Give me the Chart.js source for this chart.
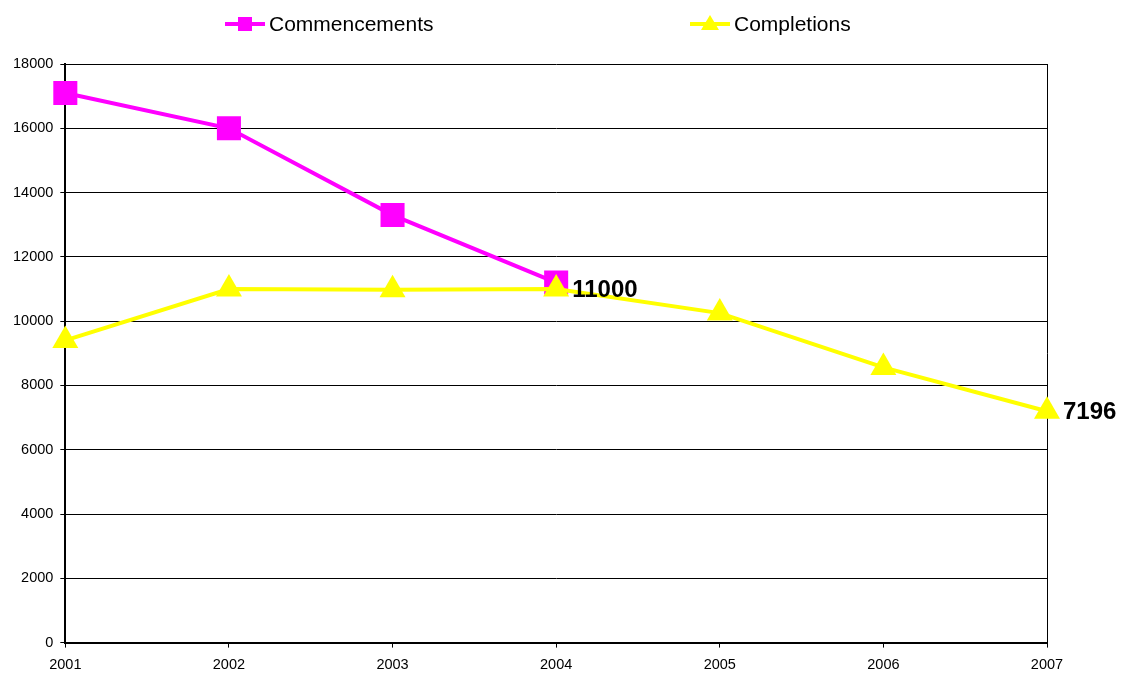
<!DOCTYPE html>
<html>
<head>
<meta charset="utf-8">
<script src="https://cdn.jsdelivr.net/npm/chart.js@4/dist/chart.umd.min.js"></script>
<style>
  body { margin: 0; background: #fff; }
  #wrap { width: 1121px; height: 686px; }
</style>
</head>
<body>
<div id="wrap"><canvas id="grafico" width="1121" height="686"></canvas></div>
<script>
const anos = ['2001', '2002', '2003', '2004', '2005', '2006', '2007'];
const commencements = [17100, 16000, 13300, 11200, null, null, null];
const completions = [9400, 11000, 10980, 11000, 10250, 8560, 7196];
// pontos da série Completions que levam rótulo
const pontosRotulados = [3, 6];

const FONTE = '"Liberation Sans", Arial, sans-serif';

// legenda desenhada à mão: linha + marcador + texto, bem espaçados
const legendaPlugin = {
    id: 'legendaManual',
    afterDraw(chart) {
        const ctx = chart.ctx;
        const itens = [
            { ds: chart.data.datasets[0], x: 225 },
            { ds: chart.data.datasets[1], x: 690 }
        ];
        const y = 24;
        ctx.save();
        itens.forEach(item => {
            ctx.strokeStyle = item.ds.borderColor;
            ctx.lineWidth = 4;
            ctx.beginPath();
            ctx.moveTo(item.x, y);
            ctx.lineTo(item.x + 40, y);
            ctx.stroke();
            ctx.fillStyle = item.ds.borderColor;
            ctx.beginPath();
            if (item.ds.pointStyle === 'rect') {
                ctx.rect(item.x + 13, y - 7, 14, 14);
            } else {
                ctx.moveTo(item.x + 20, y - 9);
                ctx.lineTo(item.x + 29, y + 6);
                ctx.lineTo(item.x + 11, y + 6);
                ctx.closePath();
            }
            ctx.fill();
            ctx.fillStyle = '#000';
            ctx.font = '21px ' + FONTE;
            ctx.textAlign = 'left';
            ctx.textBaseline = 'middle';
            ctx.fillText(item.ds.label, item.x + 44, y + 1);
        });
        ctx.restore();
    }
};

// moldura da área do gráfico (lado direito)
const molduraPlugin = {
    id: 'moldura',
    beforeDatasetsDraw(chart) {
        const a = chart.chartArea;
        const ctx = chart.ctx;
        ctx.save();
        ctx.strokeStyle = '#000';
        ctx.lineWidth = 1;
        ctx.beginPath();
        ctx.moveTo(a.right + 0.5, a.top);
        ctx.lineTo(a.right + 0.5, a.bottom);
        ctx.stroke();
        ctx.restore();
    }
};

// rótulos de valor em negrito à direita do ponto
const rotulosPlugin = {
    id: 'rotulos',
    afterDatasetsDraw(chart) {
        const ctx = chart.ctx;
        const meta = chart.getDatasetMeta(1);
        ctx.save();
        ctx.fillStyle = '#000';
        ctx.font = 'bold 24px ' + FONTE;
        ctx.textAlign = 'left';
        ctx.textBaseline = 'middle';
        pontosRotulados.forEach(i => {
            const p = meta.data[i];
            ctx.fillText(String(completions[i]), p.x + 16, p.y + 1);
        });
        ctx.restore();
    }
};

const ctx = document.getElementById('grafico').getContext('2d');
new Chart(ctx, {
    type: 'line',
    data: {
        labels: anos,
        datasets: [{
            label: 'Commencements',
            data: commencements,
            borderColor: '#FF00FF',
            backgroundColor: '#FF00FF',
            borderWidth: 4,
            pointStyle: 'rect',
            pointRadius: 17,
            pointBorderWidth: 0,
            tension: 0,
            order: 2
        }, {
            label: 'Completions',
            data: completions,
            borderColor: '#FFFF00',
            backgroundColor: '#FFFF00',
            borderWidth: 4,
            pointStyle: 'triangle',
            pointRadius: 15,
            pointBorderWidth: 0,
            tension: 0,
            order: 1
        }]
    },
    options: {
        responsive: false,
        animation: false,
        layout: {
            padding: { top: 64, right: 74, bottom: 3, left: 6 }
        },
        plugins: {
            legend: { display: false },
            tooltip: { enabled: false }
        },
        scales: {
            x: {
                offset: false,
                grid: {
                    drawOnChartArea: false,
                    color: '#000',
                    tickLength: 5
                },
                border: { color: '#000', width: 2 },
                ticks: {
                    color: '#000',
                    font: { family: FONTE, size: 14.5 },
                    maxRotation: 0,
                    padding: 9
                }
            },
            y: {
                min: 0,
                max: 18000,
                grid: {
                    color: '#000',
                    lineWidth: 1,
                    tickLength: 5
                },
                border: { color: '#000', width: 2 },
                ticks: {
                    stepSize: 2000,
                    color: '#000',
                    font: { family: FONTE, size: 14.5 },
                    padding: 7,
                    callback: function(value) {
                        return String(value);
                    }
                }
            }
        }
    },
    plugins: [legendaPlugin, molduraPlugin, rotulosPlugin]
});
</script>
</body>
</html>
